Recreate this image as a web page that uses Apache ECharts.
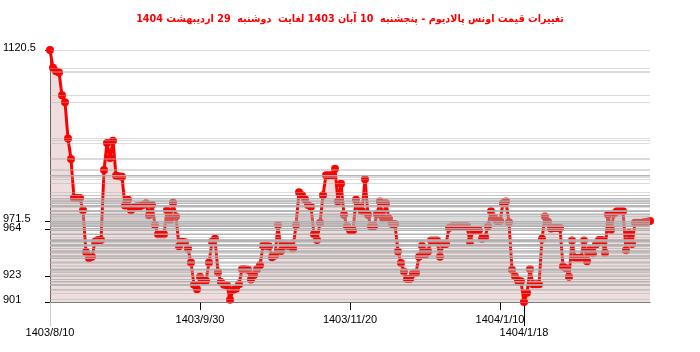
<!DOCTYPE html>
<html><head><meta charset="utf-8">
<script src="https://cdn.jsdelivr.net/npm/echarts@6/dist/echarts.min.js"></script>
<style>html,body{margin:0;padding:0;background:#fff}#c{width:700px;height:352px}</style>
</head><body><div id="c"></div>
<script>
const titleText = 'تغییرات قیمت اونس پالادیوم - پنجشنبه  10 آبان 1403 لغایت  دوشنبه  29 اردیبهشت 1404';
const categories = [
'1403/8/10','1403/8/11','1403/8/12','1403/8/13','1403/8/14','1403/8/15','1403/8/16','1403/8/17','1403/8/18','1403/8/19','1403/8/20','1403/8/21','1403/8/22','1403/8/23','1403/8/24','1403/8/25','1403/8/26','1403/8/27','1403/8/28','1403/8/29','1403/8/30',
'1403/9/1','1403/9/2','1403/9/3','1403/9/4','1403/9/5','1403/9/6','1403/9/7','1403/9/8','1403/9/9','1403/9/10','1403/9/11','1403/9/12','1403/9/13','1403/9/14','1403/9/15','1403/9/16','1403/9/17','1403/9/18','1403/9/19','1403/9/20','1403/9/21','1403/9/22','1403/9/23','1403/9/24','1403/9/25','1403/9/26','1403/9/27','1403/9/28','1403/9/29','1403/9/30',
'1403/10/1','1403/10/2','1403/10/3','1403/10/4','1403/10/5','1403/10/6','1403/10/7','1403/10/8','1403/10/9','1403/10/10','1403/10/11','1403/10/12','1403/10/13','1403/10/14','1403/10/15','1403/10/16','1403/10/17','1403/10/18','1403/10/19','1403/10/20','1403/10/21','1403/10/22','1403/10/23','1403/10/24','1403/10/25','1403/10/26','1403/10/27','1403/10/28','1403/10/29','1403/10/30',
'1403/11/1','1403/11/2','1403/11/3','1403/11/4','1403/11/5','1403/11/6','1403/11/7','1403/11/8','1403/11/9','1403/11/10','1403/11/11','1403/11/12','1403/11/13','1403/11/14','1403/11/15','1403/11/16','1403/11/17','1403/11/18','1403/11/19','1403/11/20','1403/11/21','1403/11/22','1403/11/23','1403/11/24','1403/11/25','1403/11/26','1403/11/27','1403/11/28','1403/11/29','1403/11/30',
'1403/12/1','1403/12/2','1403/12/3','1403/12/4','1403/12/5','1403/12/6','1403/12/7','1403/12/8','1403/12/9','1403/12/10','1403/12/11','1403/12/12','1403/12/13','1403/12/14','1403/12/15','1403/12/16','1403/12/17','1403/12/18','1403/12/19','1403/12/20','1403/12/21','1403/12/22','1403/12/23','1403/12/24','1403/12/25','1403/12/26','1403/12/27','1403/12/28','1403/12/29','1403/12/30',
'1404/1/1','1404/1/2','1404/1/3','1404/1/4','1404/1/5','1404/1/6','1404/1/7','1404/1/8','1404/1/9','1404/1/10','1404/1/11','1404/1/12','1404/1/13','1404/1/14','1404/1/15','1404/1/16','1404/1/17','1404/1/18','1404/1/19','1404/1/20','1404/1/21','1404/1/22','1404/1/23','1404/1/24','1404/1/25','1404/1/26','1404/1/27','1404/1/28','1404/1/29','1404/1/30','1404/1/31',
'1404/2/1','1404/2/2','1404/2/3','1404/2/4','1404/2/5','1404/2/6','1404/2/7','1404/2/8','1404/2/9','1404/2/10','1404/2/11','1404/2/12','1404/2/13','1404/2/14','1404/2/15','1404/2/16','1404/2/17','1404/2/18','1404/2/19','1404/2/20','1404/2/21','1404/2/22','1404/2/23','1404/2/24','1404/2/25','1404/2/26','1404/2/27','1404/2/28','1404/2/29'
];
const prices = [
1120.5,1105,1102,1101,1081,1075,1043.5,1025.5,991.5,991.5,
991.5,981,944.5,939,940.5,953.5,955,955,1016,1039.5,
1026.5,1041.5,1011,1010.5,1010,985,990,981,983.5,984.5,
984.5,985.5,987,976.5,985.5,968,960,960,960,981,
972.5,987.5,975.5,949.5,953.5,953,947.5,935.5,916,912,
923,919.5,919.5,935.5,953.5,956,927,918.5,916,915.5,
903,911.5,912.5,916.5,929.5,929.5,929,920.5,924.5,929.5,
933,950,950,949.5,940,941.5,968,945.5,950.5,950,
950,947.5,968,996.5,994,990.5,985.5,984,960,955,
970,994,1011.5,1011.5,1011.5,1017,988.5,1004,977,967,
963.5,963.5,990,984.5,980,1008,977,967,967,977.5,
988.5,974,987,973.5,969,969,945,935,927.5,921,
921,925.5,926.5,940.5,950,942,945,954.5,954.5,954.5,
940.5,951.5,951.5,965.5,967,967,967,967,967,967,
953.5,963.5,963.5,963.5,956,957.5,967,980,974.5,971.5,
971.5,987,988.5,970.5,929,923.5,919.5,919,901,909,
929.5,916.5,916.5,916.5,956,975.5,971,965,965.5,965.5,
965.5,932,930.5,923,954.5,939.5,939.5,939.5,954.5,936.5,
946.5,943.5,951,955,955,944,977,964,978,980,
980,980,946,961,951.5,970,970,970,970.5,971,
971.5
];
const yTickValues = [901, 923, 964, 971.5, 1120.5];
const xMidIdx = [50, 100, 150];
const xFirstIdx = 0;
const xMinIdx = 158;

const chart = echarts.init(document.getElementById('c'), null, {renderer: 'canvas'});
const labelFont = "'Liberation Sans', Arial, sans-serif";
const lbl = {color: '#000', fontSize: 11, fontFamily: labelFont, hideOverlap: false};
chart.setOption({
  animation: false,
  backgroundColor: '#fff',
  title: {
    text: titleText, left: 'center', top: 9,
    textStyle: {color: '#ff0000', fontSize: 10.7, fontWeight: 'bold', fontFamily: "'DejaVu Sans Condensed', 'DejaVu Sans', sans-serif"}
  },
  grid: {left: 50, right: 50, top: 50, bottom: 50},
  xAxis: [
    {
      type: 'category', data: categories, boundaryGap: false, position: 'bottom',
      axisLine: {lineStyle: {color: '#555', width: 1}},
      axisTick: {length: 8, lineStyle: {color: '#000'}, interval: (i) => xMidIdx.includes(i)},
      axisLabel: Object.assign({interval: (i) => xMidIdx.includes(i), margin: 12}, lbl),
      splitLine: {show: false}
    },
    {
      type: 'category', data: categories, boundaryGap: false, position: 'bottom',
      axisLine: {show: false}, splitLine: {show: false},
      axisTick: {length: 24, lineStyle: {color: '#000'}, interval: (i) => i === xMinIdx},
      axisLabel: Object.assign({interval: (i) => i === xMinIdx, margin: 25}, lbl)
    },
    {
      type: 'category', data: categories, boundaryGap: false, position: 'bottom',
      axisLine: {show: false}, splitLine: {show: false},
      axisTick: {length: 24, lineStyle: {color: '#ccc'}, interval: (i) => i === xFirstIdx},
      axisLabel: Object.assign({interval: (i) => i === xFirstIdx, margin: 25}, lbl)
    }
  ],
  yAxis: {
    type: 'value', min: 901, max: 1120.5,
    axisLine: {show: true, lineStyle: {color: '#7a6262'}},
    axisTick: {show: true, length: 5, customValues: yTickValues, lineStyle: {color: '#000'}},
    axisLabel: {
      customValues: yTickValues, align: 'left', margin: 47, verticalAlign: 'bottom', lineHeight: 4,
      formatter: (v) => String(v),
      color: '#000', fontSize: 11, fontFamily: labelFont
    },
    splitLine: {show: false}
  },
  series: [
    {
      type: 'line', data: prices, xAxisIndex: 0, symbol: 'none', z: 1,
      lineStyle: {opacity: 0}, silent: true,
      markLine: {
        silent: true, symbol: ['none', 'none'], label: {show: false}, animation: false,
        lineStyle: {color: 'rgba(175,175,175,0.45)', width: 1, type: 'solid'},
        emphasis: {disabled: true},
        data: prices.map(v => ({yAxis: v}))
      }
    },
    {
      type: 'line', data: prices, xAxisIndex: 0, z: 3,
      symbol: 'circle', symbolSize: 8, showSymbol: true, showAllSymbol: true,
      itemStyle: {color: '#ff0000'},
      lineStyle: {color: '#ff0000', width: 3},
      areaStyle: {color: 'rgba(160,60,60,0.25)'}
    }
  ]
});
</script></body></html>
